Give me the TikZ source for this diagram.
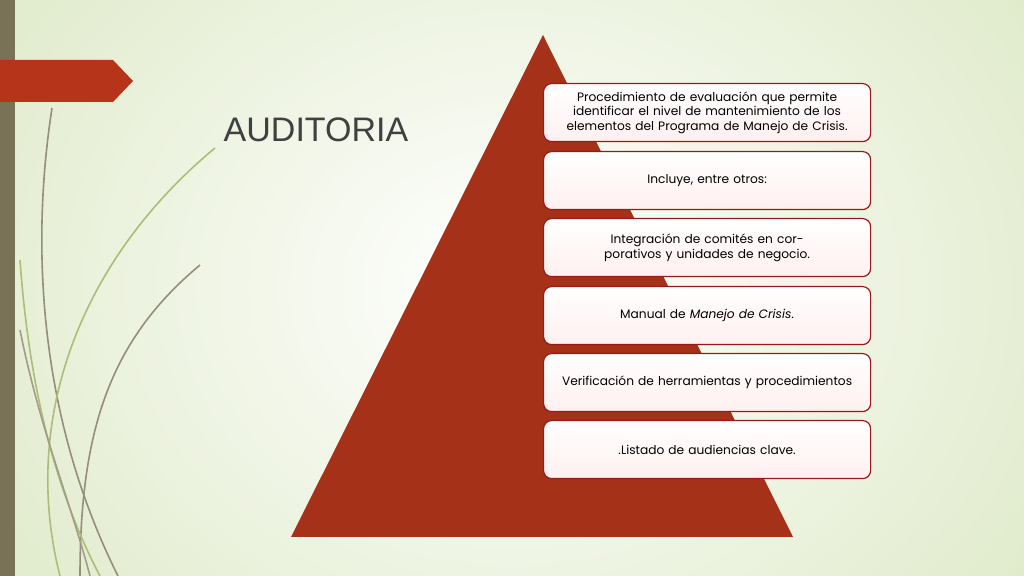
\documentclass[tikz,border=0pt]{standalone}
\usepackage{fontspec}
\setmainfont{Liberation Sans}
\newfontfamily\boxfont{Poppins}
\begin{document}
\begin{tikzpicture}[x=0.5pt,y=-0.5pt,
  item/.style={draw=red!55!black!90, line width=0.6pt, rounded corners=4pt, top color=white, bottom color=red!6,
    minimum width=327*0.5pt, minimum height=58*0.5pt, text width=300*0.5pt, align=center,
    font=\boxfont\fontsize{6.1}{7.3}\selectfont, inner sep=1pt, anchor=north west}]
\definecolor{tri}{HTML}{A53119}
\definecolor{bar}{HTML}{7A7256}
\definecolor{tab}{HTML}{B5341A}
\useasboundingbox (0,0) rectangle (1024,576);
\shade[inner color=white, outer color={rgb,255:red,220;green,232;blue,196}] (-200,-300) rectangle (1224,876);
\fill[bar] (0,0) rectangle (15,576);
\fill[tab] (0,60) -- (113,60) -- (133,81) -- (113,102) -- (0,102) -- cycle;
\node[font=\fontsize{17}{20}\selectfont, text={rgb,255:red,64;green,64;blue,64}] (title) at (316,130) {AUDITORIA};
% decorative curves
\begin{scope}[line width=0.8pt]
\draw[color=bar!80] (52,108) .. controls (30,250) and (40,420) .. (118,576);
\draw[color=bar!80] (200,265) .. controls (110,340) and (80,430) .. (80,576);
\draw[color={rgb,255:red,170;green,190;blue,120}] (215,148) .. controls (80,260) and (20,420) .. (60,576);
\draw[color={rgb,255:red,170;green,190;blue,120}] (20,260) .. controls (30,400) and (60,500) .. (100,576);
\draw[color=bar!70] (20,330) .. controls (40,430) and (70,500) .. (90,576);
\end{scope}
\fill[tri] (543,35) -- (793,537) -- (291,537) -- cycle;
\node[item] (b1) at (543,83) {Procedimiento de evaluación que permite identificar el nivel de mantenimiento de los elementos del Programa de Manejo de Crisis.};
\node[item] (b2) at (543,151) {Incluye, entre otros:};
\node[item] (b3) at (543,218) {Integración de comités en corporativos y unidades de negocio.};
\node[item] (b4) at (543,286) {Manual de \textit{Manejo de Crisis}.};
\node[item] (b5) at (543,353) {Verificación de herramientas y procedimientos};
\node[item] (b6) at (543,420) {.Listado de audiencias clave.};
\end{tikzpicture}
\end{document}
